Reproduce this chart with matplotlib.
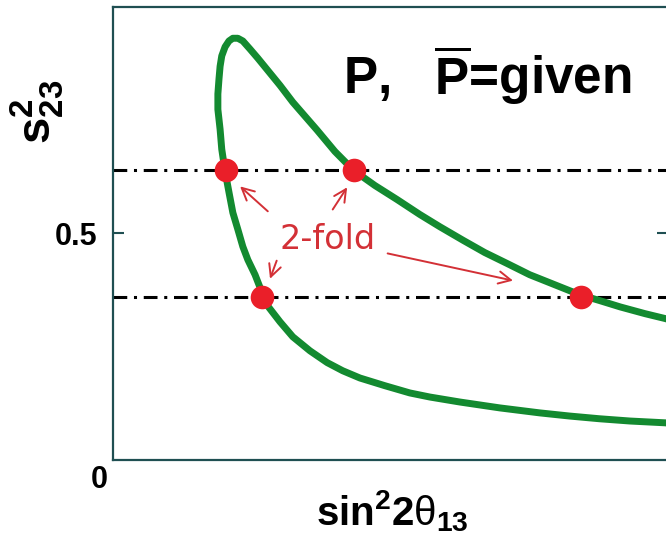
import numpy as np
import matplotlib
matplotlib.use("Agg")
from matplotlib import pyplot as plt

plt.rcParams['font.family'] = ['Liberation Sans', 'DejaVu Sans']
plt.rcParams['mathtext.fontset'] = 'custom'
plt.rcParams['mathtext.rm'] = 'Liberation Sans:bold'
plt.rcParams['mathtext.bf'] = 'Liberation Sans:bold'
plt.rcParams['mathtext.it'] = 'Liberation Sans'

# green contour (closed loop traced in delta)
curve_x = [1.022, 0.996, 0.932, 0.877, 0.823, 0.769, 0.697, 0.625, 0.571, 0.535,
           0.490, 0.445, 0.414, 0.386, 0.355, 0.324, 0.301, 0.277, 0.270, 0.256,
           0.243, 0.234, 0.225, 0.216, 0.209, 0.202, 0.196, 0.193, 0.189, 0.189,
           0.191, 0.193, 0.196, 0.202, 0.209, 0.216, 0.225, 0.234, 0.247, 0.261,
           0.277, 0.301, 0.324, 0.346, 0.368, 0.400, 0.434, 0.472, 0.512, 0.553,
           0.589, 0.631, 0.670, 0.710, 0.751, 0.796, 0.841, 0.877, 0.914, 0.959,
           0.996, 1.022]
curve_y = [0.077, 0.082, 0.086, 0.091, 0.097, 0.104, 0.115, 0.128, 0.139, 0.148,
           0.164, 0.181, 0.197, 0.215, 0.241, 0.272, 0.305, 0.343, 0.365, 0.409,
           0.442, 0.471, 0.509, 0.546, 0.591, 0.637, 0.686, 0.730, 0.774, 0.808,
           0.841, 0.869, 0.892, 0.912, 0.925, 0.931, 0.931, 0.925, 0.907, 0.887,
           0.863, 0.827, 0.790, 0.759, 0.728, 0.681, 0.639, 0.606, 0.575, 0.542,
           0.515, 0.485, 0.458, 0.434, 0.409, 0.387, 0.365, 0.352, 0.338, 0.323,
           0.312, 0.303]

# s23^2 and its octant partner
s23_levels = [0.64, 0.36]

# degenerate solutions (red dots)
dot_x = [0.203, 0.434, 0.268, 0.843]
dot_y = [0.64, 0.64, 0.36, 0.36]

# "2-fold" arrows: (tail, head)
arrow_tails = [(0.279, 0.549), (0.396, 0.553), (0.295, 0.440), (0.495, 0.456)]
arrow_heads = [(0.229, 0.604), (0.422, 0.602), (0.283, 0.400), (0.721, 0.396)]

fig = plt.figure(figsize=(6.66, 5.39), dpi=100)
ax = fig.add_axes([0.1697, 0.1466, 0.833, 0.8404])

for lev in s23_levels:
    ax.axhline(lev, color='black', lw=2.2, ls=(0, (4.5, 2.2, 1.0, 2.2)), zorder=1)

ax.plot(curve_x, curve_y, color='#138a30', lw=5, solid_capstyle='round',
        solid_joinstyle='round', zorder=2)

ax.plot(dot_x, dot_y, 'o', color='#ea1f29', markersize=17, markeredgewidth=0, zorder=3)

for (tx, ty), (hx, hy) in zip(arrow_tails, arrow_heads):
    ax.annotate('', xy=(hx, hy), xytext=(tx, ty),
                arrowprops=dict(arrowstyle='->', color='#d33036', lw=1.4,
                                mutation_scale=22, shrinkA=0, shrinkB=0))

ax.text(0.386, 0.487, '2-fold', color='#d33036', fontsize=24,
        family='DejaVu Sans', ha='center', va='center')

ax.text(0.414, 0.808, r'P,   $\overline{\mathbf{P}}$=given', fontsize=37,
        fontweight='bold', ha='left', va='baseline')

ax.set_xlim(0, 1)
ax.set_ylim(0, 1)
ax.set_xticks([])
ax.set_yticks([0.5])
ax.set_yticklabels(['0.5'], fontsize=22, fontweight='bold')
ax.tick_params(axis='y', direction='in', length=8, width=1.5, color='#1f4f52',
               pad=11, right=True)
for sp in ax.spines.values():
    sp.set_color('#1f4f52')
    sp.set_linewidth(1.6)

ax.text(-0.025, -0.045, '0', transform=ax.transAxes, fontsize=22,
        fontweight='bold', ha='center', va='center')

ax.set_xlabel(r'sin$^2$2$\mathit{\theta}_{13}$', fontsize=29, fontweight='bold')
ax.xaxis.set_label_coords(0.503, -0.062)
ax.set_ylabel(r'$\mathbf{s}^{2}_{23}$', fontsize=34)
ax.yaxis.set_label_coords(-0.085, 0.768)

fig.savefig('out.png', dpi=100)
